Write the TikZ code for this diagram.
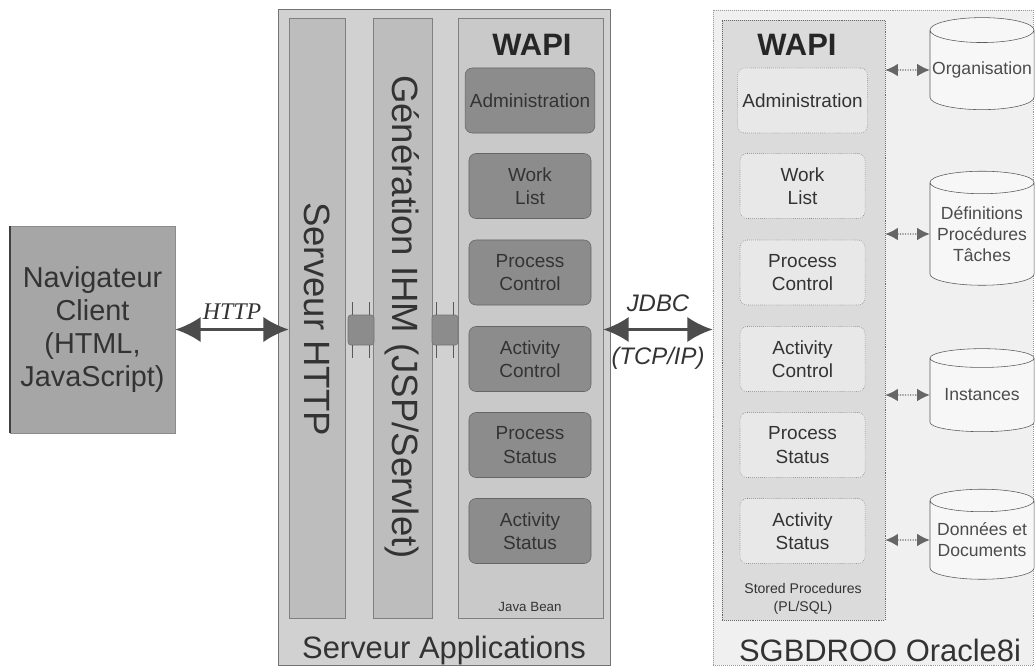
\documentclass[tikz,border=0pt]{standalone}
\usepackage{fontspec}
\setmainfont{Liberation Sans}
\newfontfamily\serifit{Liberation Serif}
\usetikzlibrary{positioning,arrows.meta,shapes.geometric}

\begin{document}
\begin{tikzpicture}[
    x=0.025cm, y=-0.025cm,
    txt/.style={text=black!80},
    panel/.style={draw=black!55, fill=black!18},
    column/.style={draw=black!50, fill=black!26, minimum height=15cm},
    wapibox/.style={draw=black!60, fill=black!45, rounded corners=5pt,
        minimum width=3.05cm, minimum height=1.625cm, align=center,
        font=\fontsize{13.5}{16.5}\selectfont, txt},
    procbox/.style={draw=black!50, densely dotted, fill=black!9, rounded corners=5pt,
        minimum width=3.125cm, minimum height=1.625cm, align=center,
        font=\fontsize{13.5}{16.5}\selectfont, txt},
    dbase/.style={cylinder, shape border rotate=90, aspect=0.25, draw=black!65,
        fill=black!3, minimum width=2.6cm, align=center, inner sep=0pt,
        font=\fontsize{12.5}{15}\selectfont, text=black!70},
    bigarrow/.style={{Latex[length=18pt,width=18pt]}-{Latex[length=18pt,width=18pt]},
        line width=2pt, draw=black!70},
    dbarrow/.style={{Latex[length=9pt,width=9pt]}-{Latex[length=9pt,width=9pt]},
        densely dotted, thick, draw=black!60},
    plug/.style={draw=black!55, fill=black!45, rounded corners=2pt,
        minimum width=0.65cm, minimum height=0.75cm},
    plugline/.style={draw=black!65, line width=1pt}
]
\useasboundingbox (0,0) rectangle (1036,671);

% client
\node[draw=black!45, fill=black!35, minimum width=4.125cm, minimum height=5.175cm,
      align=center, txt, font=\fontsize{20.5}{23.4}\selectfont] (nav) at (92.5,329.5)
      {Navigateur\\Client\\(HTML,\\JavaScript)};
\draw[line width=1.5pt, black!75] (nav.north west) -- (nav.south west);

% application server
\node[panel, minimum width=8.3cm, minimum height=16.4cm] (appsrv) at (444,337) {};
\node[column, minimum width=1.4cm] (httpcol) at (317,318) {};
\node[column, minimum width=1.475cm] (ihmcol) at (402.5,318) {};
\node[column, fill=black!21, minimum width=3.625cm] (wapicol) at (530.5,318) {};

\node[txt, rotate=-90, font=\fontsize{26}{30}\selectfont] (httptxt) at (317,319) {Serveur HTTP};
\node[txt, rotate=-90, font=\fontsize{26}{30}\selectfont] (ihmtxt) at (402.5,317) {Génération IHM (JSP/Servlet)};
\node[font=\bfseries\fontsize{22}{26}\selectfont, text=black!85] (wapiL) at (532,45) {WAPI};

\foreach \name/\y/\lbl in {adm/100.5/Administration, work/186/{Work\\List},
    pctl/272.5/{Process\\Control}, actl/359/{Activity\\Control},
    pst/445/{Process\\Status}, ast/531/{Activity\\Status}}
  \node[wapibox] (lbox-\name) at (530,\y) {\lbl};

\node[txt, font=\fontsize{9.5}{11}\selectfont] (bean) at (530,607) {Java Bean};
\node[txt, font=\fontsize{22}{26}\selectfont] (appsrvL) at (444,650) {Serveur Applications};

\node[plug] (plugA) at (361,330) {};
\node[plug] (plugB) at (445,330) {};
\foreach \p in {plugA,plugB} {
  \draw[plugline] ([xshift=0.12cm]\p.north west) -- ++(0,-13)
                  ([xshift=-0.12cm]\p.north east) -- ++(0,-13)
                  ([xshift=0.12cm]\p.south west) -- ++(0,13)
                  ([xshift=-0.12cm]\p.south east) -- ++(0,13);
}

% database server
\node[draw=black!40, densely dotted, fill=black!6, minimum width=8cm,
      minimum height=16.375cm] (dbms) at (873,337.5) {};
\node[draw=black!60, densely dotted, fill=black!14, minimum width=4.075cm,
      minimum height=15cm] (spcol) at (803.5,320) {};
\node[font=\bfseries\fontsize{22}{26}\selectfont, text=black!85] (wapiR) at (797,45) {WAPI};

\foreach \name/\y/\lbl in {adm/100.5/Administration, work/186/{Work\\List},
    pctl/272.5/{Process\\Control}, actl/359/{Activity\\Control},
    pst/445/{Process\\Status}, ast/531/{Activity\\Status}}
  \node[procbox] (rbox-\name) at (802.5,\y) {\lbl};

\node[txt, align=center, font=\fontsize{10}{12.8}\selectfont] (stored) at (803,599)
      {Stored Procedures\\(PL/SQL)};
\node[txt, font=\fontsize{22}{26}\selectfont] (dbmsL) at (880,650) {SGBDROO Oracle8i};

\node[dbase, minimum height=2.3cm] (org) at (982,70) {Organisation};
\node[dbase, minimum height=2.85cm] (defs) at (982,234) {Définitions\\Procédures\\Tâches};
\node[dbase, minimum height=2.075cm] (inst) at (982,395) {Instances};
\node[dbase, minimum height=2.25cm] (data) at (982,540) {Données et\\Documents};

\foreach \db in {org,defs,inst,data}
  \draw[dbarrow] (spcol.east |- \db) -- (\db.west);

% protocols
\draw[bigarrow] (nav.east) -- (httpcol.west |- nav.east)
    node[midway, above=3pt, font=\serifit\itshape\fontsize{17}{20}\selectfont, txt] (httpL) {HTTP};
\draw[bigarrow] (wapicol.east |- nav.east) -- (dbms.west |- nav.east)
    node[midway, above=8pt, font=\itshape\fontsize{17}{20}\selectfont, txt] (jdbcL) {JDBC}
    node[midway, below=8pt, font=\itshape\fontsize{17}{20}\selectfont, txt] (tcpL) {(TCP/IP)};

\end{tikzpicture}
\end{document}
